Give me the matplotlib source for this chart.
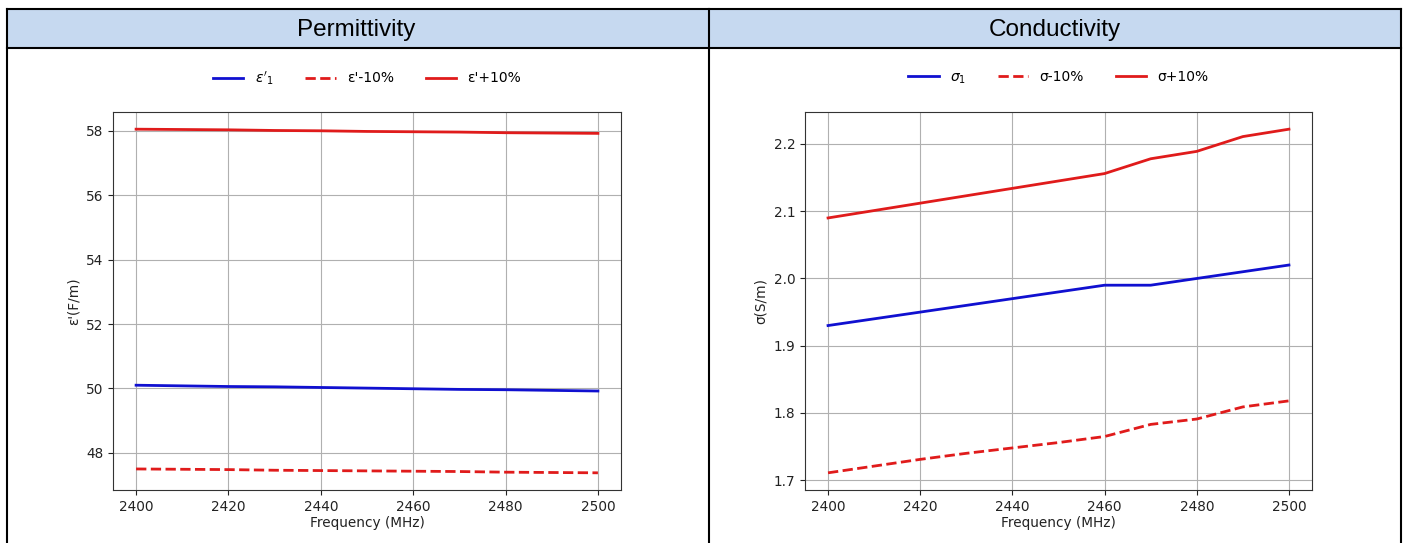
import matplotlib.pyplot as plt
from matplotlib.patches import Rectangle

# Frequency points (MHz)
freq = [2400, 2410, 2420, 2430, 2440, 2450, 2460, 2470, 2480, 2490, 2500]

# Permittivity curves
eps_1 = [50.10, 50.08, 50.06, 50.05, 50.03, 50.01, 49.99, 49.97, 49.96, 49.94, 49.92]
eps_minus = [47.50, 47.49, 47.48, 47.46, 47.45, 47.44, 47.43, 47.42, 47.40, 47.39, 47.38]
eps_plus = [58.05, 58.04, 58.03, 58.01, 58.00, 57.98, 57.97, 57.96, 57.94, 57.93, 57.92]

# Conductivity curves
sig_1 = [1.930, 1.940, 1.950, 1.960, 1.970, 1.980, 1.990, 1.990, 2.000, 2.010, 2.020]
sig_minus = [1.711, 1.721, 1.731, 1.740, 1.748, 1.756, 1.765, 1.783, 1.791, 1.809, 1.818]
sig_plus = [2.090, 2.101, 2.112, 2.123, 2.134, 2.145, 2.156, 2.178, 2.189, 2.211, 2.222]

W, H = 1407, 543
BLUE = "#1010d0"
RED = "#e01b1b"

fig = plt.figure(figsize=(W / 100, H / 100), dpi=100)

# table frame drawn in pixel coordinates
bg = fig.add_axes([0, 0, 1, 1])
bg.set_xlim(0, W)
bg.set_ylim(H, 0)
bg.axis("off")
bg.add_patch(Rectangle((8, 9), 1393, 39, facecolor="#c6d9f0", edgecolor="none"))
for x in (7, 709, 1401):
    bg.plot([x, x], [9, H], color="black", lw=1.5)
for y in (9, 48):
    bg.plot([7, 1401], [y, y], color="black", lw=1.5)
bg.text(356, 30, "Permittivity", ha="center", va="center", fontsize=17.5, family="Liberation Sans")
bg.text(1055, 30, "Conductivity", ha="center", va="center", fontsize=17.5, family="Liberation Sans")


def make_axes(left_px, right_px):
    top, bottom = 112, 490
    return fig.add_axes([left_px / W, 1 - bottom / H, (right_px - left_px) / W, (bottom - top) / H])


def style(ax, ylabel):
    ax.grid(True, color="#b0b0b0", lw=0.8)
    ax.set_axisbelow(True)
    ax.set_xlabel("Frequency (MHz)", fontsize=9.8, color="#222222", labelpad=2)
    ax.set_ylabel(ylabel, fontsize=9.8, color="#222222")
    ax.tick_params(labelsize=9.8, colors="#222222")
    ax.set_xticks([2400, 2420, 2440, 2460, 2480, 2500])
    for s in ax.spines.values():
        s.set_color("#333333")
    ax.legend(loc="center", bbox_to_anchor=(0.5, 1.09), ncol=3, frameon=False,
              fontsize=10, handlelength=2.2, columnspacing=2.3)


ax1 = make_axes(113, 621)
ax1.plot(freq, eps_1, color=BLUE, lw=2, label=r"$\epsilon'_1$")
ax1.plot(freq, eps_minus, color=RED, lw=2, ls="--", label="ε'-10%")
ax1.plot(freq, eps_plus, color=RED, lw=2, label="ε'+10%")
ax1.set_yticks([48, 50, 52, 54, 56, 58])
style(ax1, "ε'(F/m)")

ax2 = make_axes(805, 1312)
ax2.plot(freq, sig_1, color=BLUE, lw=2, label=r"$\sigma_1$")
ax2.plot(freq, sig_minus, color=RED, lw=2, ls="--", label="σ-10%")
ax2.plot(freq, sig_plus, color=RED, lw=2, label="σ+10%")
ax2.set_yticks([1.7, 1.8, 1.9, 2.0, 2.1, 2.2])
style(ax2, "σ(S/m)")

fig.savefig("out.png", dpi=100)
